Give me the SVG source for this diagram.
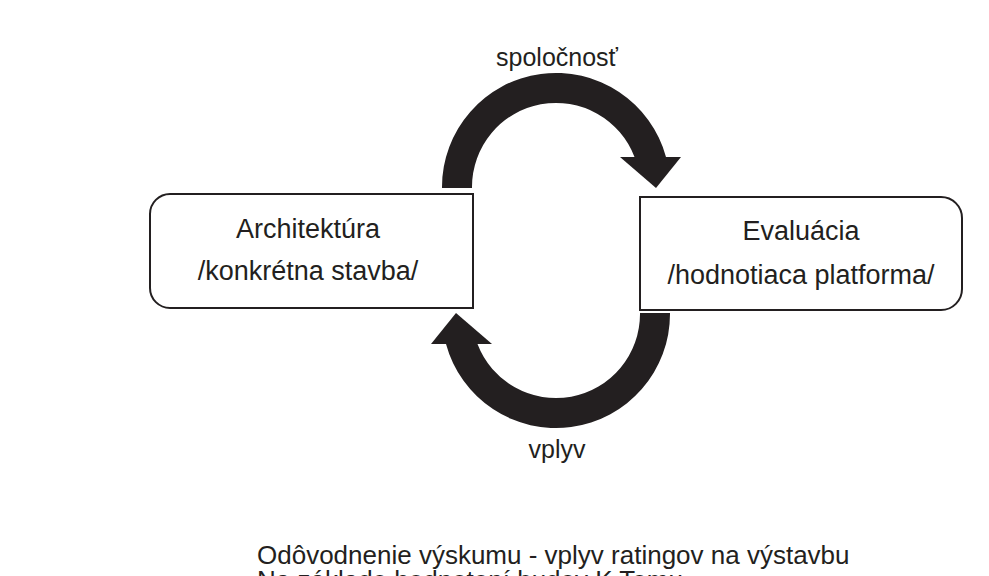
<svg xmlns="http://www.w3.org/2000/svg" width="989" height="576" viewBox="0 0 989 576">
<style>
.box{fill:#ffffff;stroke:#231f20;stroke-width:2}
.arrow{fill:#231f20;stroke:none}
.t{font-family:"Liberation Sans",Arial,sans-serif;fill:#231f20}
.bt{font-size:27px;text-anchor:middle}
.lbl{font-size:25px;text-anchor:middle}
.note{font-size:26px}
</style>
<rect width="989" height="576" fill="#ffffff"/>
<g id="connectors">
  <g id="arrow-top">
    <path class="arrow" d="M442,188 L442,187 A114,114 0 0 1 666,157 L634.5,157 A84,84 0 0 0 472,187 L472,188 Z"/>
    <polygon class="arrow" points="620,157 681,157 656,188"/>
  </g>
  <g id="arrow-bottom">
    <path class="arrow" d="M670,313 L670,314 A114,114 0 0 1 446,344 L477.5,344 A84,84 0 0 0 640,314 L640,313 Z"/>
    <polygon class="arrow" points="492,344 431,344 456,313"/>
  </g>
  <text class="t lbl" x="557" y="66">spoločnosť</text>
  <text class="t lbl" x="557" y="458">vplyv</text>
</g>
<g id="node-architektura">
  <path class="box" d="M170,194 L473,194 L473,308 L170,308 A20,20 0 0 1 150,288 L150,214 A20,20 0 0 1 170,194 Z"/>
  <text class="t bt" x="308" y="238">Architektúra</text>
  <text class="t bt" x="308" y="280">/konkrétna stavba/</text>
</g>
<g id="node-evaluacia">
  <path class="box" d="M640,197 L941,197 A21,21 0 0 1 962,218 L962,289 A21,21 0 0 1 941,310 L640,310 Z"/>
  <text class="t bt" x="801" y="240">Evaluácia</text>
  <text class="t bt" x="801" y="284">/hodnotiaca platforma/</text>
</g>
<g id="note">
  <text class="t note" x="257" y="564">Odôvodnenie výskumu - vplyv ratingov na výstavbu</text>
  <text class="t note" x="257" y="589">Na základe hodnotení budov K Tomu</text>
</g>
</svg>
